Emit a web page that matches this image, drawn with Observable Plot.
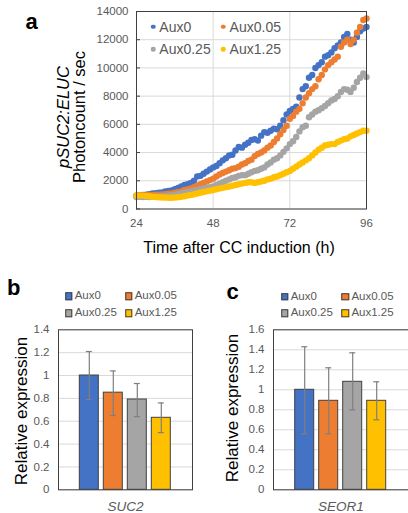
<!DOCTYPE html>
<html><head><meta charset="utf-8">
<script src="https://cdn.jsdelivr.net/npm/d3@7"></script>
<script src="https://cdn.jsdelivr.net/npm/@observablehq/plot@0.6"></script>
<style>
body{margin:0;background:#fff;font-family:Arial,"Liberation Sans",sans-serif}
#root{position:relative;width:408px;height:513px;overflow:hidden;background:#fff}
#root > *{position:absolute}
.t{white-space:nowrap;line-height:1}
</style></head><body><div id="root"></div>
<script>
// ---------- data ----------
const seriesNames = ["Aux0", "Aux0.05", "Aux0.25", "Aux1.25"];
const seriesColors = ["#4472C4", "#ED7D31", "#A5A5A5", "#FFC000"];

const hours = [24,25,26,27,28,29,30,31,32,33,34,35,36,37,38,39,40,41,42,43,44,45,46,47,48,
  49,50,51,52,53,54,55,56,57,58,59,60,61,62,63,64,65,66,67,68,69,70,71,72,
  73,74,75,76,77,78,79,80,81,82,83,84,85,86,87,88,89,90,91,92,93,94,95,96];

const aux0 = [950,980,1000,1020,1050,1100,1120,1150,1180,1250,1280,1320,1400,1500,1600,1700,1750,1850,2000,2300,2350,2500,2650,2800,2950,
  3050,3250,3450,3600,3800,3850,4150,4400,4350,4550,4700,4900,4950,4850,5200,5450,5400,5550,5700,5650,5900,6300,6700,6950,
  7100,7250,7900,8500,8700,9300,9500,10000,10200,10400,10800,10900,11100,11400,11600,11800,12200,12400,12000,11800,12200,12600,12800,12900];
const aux005 = [950,960,970,980,1000,1000,1010,1020,1030,1050,1080,1100,1150,1200,1250,1350,1400,1450,1550,1650,1750,1850,1950,2050,2150,
  2300,2450,2550,2650,2750,2850,2900,3000,3150,3250,3400,3500,3750,3900,4000,4150,4350,4500,4750,5000,5300,5600,5900,6400,
  6600,6900,7100,7500,7900,8200,8500,8700,9200,9500,9900,10200,10400,10600,10800,11500,11800,12000,11700,12000,12500,12900,13400,13500];
const aux025 = [850,860,850,860,850,870,880,890,900,920,950,980,1000,1050,1100,1150,1200,1250,1300,1350,1400,1450,1500,1550,1600,
  1700,1800,1900,2000,2100,2200,2250,2350,2400,2400,2500,2600,2700,2750,2850,2950,3150,3300,3500,3600,3800,4050,4300,4600,
  4800,5100,5500,5800,5900,6500,6700,6900,7000,7150,7300,7500,7700,7800,8000,8300,8500,8450,8300,8600,9000,9300,9600,9350];
const aux125 = [950,960,950,920,900,870,850,830,820,810,800,800,810,830,860,900,950,1000,1050,1100,1150,1200,1250,1300,1350,
  1400,1450,1500,1550,1600,1650,1700,1750,1800,1850,1900,1900,1850,1900,1950,2000,2100,2150,2250,2300,2400,2500,2600,2700,
  2850,3000,3150,3300,3450,3600,3800,4000,4200,4350,4500,4550,4600,4600,4750,4850,4950,5000,5150,5250,5350,5450,5550,5550];
const timeSeries = [aux0, aux005, aux025, aux125];

const xTicksA = [24, 48, 72, 96];
const yTicksA = [0, 2000, 4000, 6000, 8000, 10000, 12000, 14000];

const genesB = ["SUC2"];
const suc2Mean = [1.00, 0.85, 0.79, 0.63];
const suc2Low  = [0.79, 0.65, 0.64, 0.50];
const suc2High = [1.21, 1.04, 0.93, 0.76];
const yTicksB = [0, 0.2, 0.4, 0.6, 0.8, 1, 1.2, 1.4];

const genesC = ["SEOR1"];
const seor1Mean = [1.00, 0.89, 1.08, 0.89];
const seor1Low  = [0.56, 0.56, 0.80, 0.70];
const seor1High = [1.43, 1.22, 1.37, 1.08];
const yTicksC = [0, 0.2, 0.4, 0.6, 0.8, 1, 1.2, 1.4, 1.6];

// ---------- helpers ----------
const root = document.getElementById("root");
const FONT = "Arial, 'Liberation Sans', sans-serif";
function place(el, left, top) { el.style.left = left + "px"; el.style.top = top + "px"; root.appendChild(el); return el; }
function text(str, left, cy, size, opts = {}) {
  const d = document.createElement("div");
  d.className = "t";
  d.innerHTML = str;
  d.style.fontSize = size + "px";
  d.style.color = opts.color || "#000";
  if (opts.bold) d.style.fontWeight = "bold";
  d.style.transform = opts.center ? "translate(-50%,-50%)" : "translate(0,-50%)";
  return place(d, left, cy);
}
function rotText(html, cx, cy, size, lh) {
  const d = document.createElement("div");
  d.className = "t";
  d.innerHTML = html;
  d.style.fontSize = size + "px";
  d.style.lineHeight = lh + "px";
  d.style.textAlign = "center";
  d.style.color = "#000";
  d.style.transform = "translate(-50%,-50%) rotate(-90deg)";
  return place(d, cx, cy);
}
function swatch(kind, color, cx, cy, size) {
  const d = document.createElement("div");
  d.style.width = size + "px"; d.style.height = size + "px";
  d.style.background = color;
  d.style.boxSizing = "border-box";
  if (kind === "dot") d.style.borderRadius = "50%";
  else d.style.border = "1px solid #404040";
  d.style.transform = "translate(-50%,-50%)";
  return place(d, cx, cy);
}
const baseStyle = {background: "transparent", color: "#595959", fontFamily: FONT, fontSize: "11.5px", overflow: "visible"};

// ---------- panel a ----------
const rowsA = seriesNames.flatMap((s, i) => hours.map((h, j) => ({s, h, v: timeSeries[i][j]})));
const plotA = Plot.plot({
  width: 408, height: 260,
  marginLeft: 136, marginRight: 42, marginTop: 11, marginBottom: 51.5,
  style: baseStyle,
  x: {domain: [24, 96]},
  y: {domain: [0, 14000]},
  color: {domain: seriesNames, range: seriesColors},
  marks: [
    Plot.gridX(xTicksA, {stroke: "#d9d9d9", strokeOpacity: 1}),
    Plot.gridY(yTicksA, {stroke: "#d9d9d9", strokeOpacity: 1}),
    Plot.dot(rowsA, {x: "h", y: "v", fill: "s", r: 3.2}),
    Plot.tickY(yTicksA, {y: d => d, stroke: "#404040", insetRight: 226}),
    Plot.frame({stroke: "#404040"}),
    Plot.axisY(yTicksA, {tickSize: 0, tickPadding: 8, tickFormat: "d", label: null, fontSize: 11.5}),
    Plot.axisX(xTicksA, {tickSize: 0, tickPadding: 10, label: null, fontSize: 11.5})
  ]
});
place(plotA, 0, 0);

// ---------- bar panels ----------
function barPanel(genes, mean, low, high, yTicks, yMax, left, width, marginLeft, marginRight) {
  const rows = seriesNames.map((s, i) => ({gene: genes[0], s, mean: mean[i], lo: low[i], hi: high[i]}));
  return place(Plot.plot({
    width, height: 193,
    marginLeft, marginRight, marginTop: 9.3, marginBottom: 23.7,
    style: baseStyle,
    fx: {domain: genes, padding: 0},
    x: {domain: seriesNames, paddingInner: 0.21, paddingOuter: 0.855},
    y: {domain: [0, yMax]},
    color: {domain: seriesNames, range: seriesColors},
    marks: [
      Plot.gridY(yTicks, {stroke: "#d9d9d9", strokeOpacity: 1}),
      Plot.barY(rows, {fx: "gene", x: "s", y: "mean", fill: "s", stroke: "#404040", strokeWidth: 1}),
      Plot.ruleX(rows, {fx: "gene", x: "s", y1: "lo", y2: "hi", stroke: "#7f7f7f", strokeWidth: 1.2}),
      Plot.tickY(rows, {fx: "gene", x: "s", y: "lo", stroke: "#7f7f7f", strokeWidth: 1.2, insetLeft: 6.5, insetRight: 6.5}),
      Plot.tickY(rows, {fx: "gene", x: "s", y: "hi", stroke: "#7f7f7f", strokeWidth: 1.2, insetLeft: 6.5, insetRight: 6.5}),
      Plot.frame({stroke: "#404040"}),
      Plot.axisY(yTicks, {tickSize: 0, tickPadding: 9, tickFormat: "~g", label: null, fontSize: 11.5}),
      Plot.axisX({ticks: [], label: null, tickSize: 0}),
      Plot.axisFx({anchor: "bottom", tickSize: 0, tickPadding: 11.3, label: null, fontSize: 13.5, fontStyle: "italic"})
    ]
  }), left, 320);
}
barPanel(genesB, suc2Mean, suc2Low, suc2High, yTicksB, 1.4, 0, 200, 57.7, 7.5);
barPanel(genesC, seor1Mean, seor1Low, seor1High, yTicksC, 1.6, 200, 210, 73.3, 1.3);

// ---------- titles & labels ----------
text("a", 25.5, 22, 22, {bold: true});
text("b", 7, 288, 22, {bold: true});
text("c", 226.5, 292, 22, {bold: true});

rotText("<i>p</i><i>SUC2:ELUC</i><br>Photoncount / sec", 70.5, 117, 16.5, 15.5);
text("Time after CC induction (h)", 239, 248, 16, {center: true});
rotText("Relative expression", 20.5, 410.8, 17, 17);
rotText("Relative expression", 231.7, 408.3, 17, 17);

// legends
const legA = [[153, 26.7], [223.3, 26.7], [153, 49.3], [223.3, 49.3]];
seriesNames.forEach((s, i) => {
  swatch("dot", seriesColors[i], legA[i][0], legA[i][1], 4.5);
  text(s, legA[i][0] + 6.3, legA[i][1], 14, {color: "#595959"});
});
const legB = [[68.5, 296], [128.5, 296], [68.5, 313.3], [128.5, 313.3]];
const legC = [[284.5, 296.7], [345.2, 296.7], [284.5, 313.3], [345.2, 313.3]];
[legB, legC].forEach(leg => seriesNames.forEach((s, i) => {
  swatch("sq", seriesColors[i], leg[i][0], leg[i][1], 7.5);
  text(s, leg[i][0] + 6.2, leg[i][1], 11.5, {color: "#595959"});
}));
</script>
</body></html>
